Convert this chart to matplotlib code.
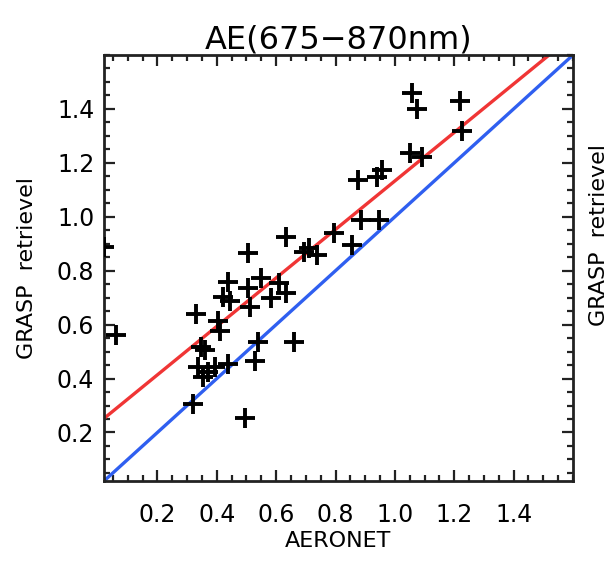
"""Scatter of GRASP retrieval vs AERONET Angstrom exponent (675-870nm)."""

import matplotlib
matplotlib.use("Agg")
import matplotlib.pyplot as plt
from matplotlib.ticker import MultipleLocator
import numpy as np

# values
aeronet = [
    0.02, 0.061, 0.329, 0.506, 0.438, 0.421, 0.445, 0.506, 0.513, 0.550,
    0.581, 0.608, 0.632, 0.404, 0.411, 0.346, 0.360, 0.336, 0.353, 0.372,
    0.394, 0.438, 0.540, 0.530, 0.319, 0.496, 0.659, 0.632, 0.710, 0.737,
    0.693, 0.795, 0.887, 0.948, 0.856, 1.057, 1.074, 1.220, 1.227, 1.050,
    1.091, 0.955, 0.940, 0.875,
]
grasp = [
    0.888, 0.560, 0.638, 0.866, 0.759, 0.704, 0.686, 0.737, 0.667, 0.774,
    0.700, 0.756, 0.719, 0.612, 0.575, 0.517, 0.505, 0.443, 0.406, 0.425,
    0.443, 0.454, 0.535, 0.465, 0.307, 0.252, 0.535, 0.925, 0.885, 0.859,
    0.870, 0.940, 0.988, 0.988, 0.896, 1.459, 1.400, 1.429, 1.319, 1.238,
    1.220, 1.172, 1.146, 1.135,
]

# fitted line (slope, intercept) and axis range
fit_slope = 0.899
fit_intercept = 0.234
axis_min, axis_max = 0.02, 1.6
tick_values = [0.2, 0.4, 0.6, 0.8, 1.0, 1.2, 1.4]
tick_labels = ["0.2", "0.4", "0.6", "0.8", "1.0", "1.2", "1.4"]

plt.rcParams["font.family"] = ["DejaVu Sans"]

fig = plt.figure(figsize=(6.05, 5.61), dpi=100)
ax = fig.add_axes([104 / 605, 80 / 561, 469 / 605, 426 / 561])

line_x = np.array([axis_min, axis_max])
ax.plot(line_x, line_x, color="#2f5ff0", lw=2.4, zorder=2)
ax.plot(line_x, fit_slope * line_x + fit_intercept, color="#f03535", lw=2.4, zorder=2)
ax.plot(aeronet, grasp, "+", color="black", ms=14, mew=2.8, zorder=3, clip_on=True)

ax.set_xlim(axis_min, axis_max)
ax.set_ylim(axis_min, axis_max)
ax.set_xticks(tick_values)
ax.set_xticklabels(tick_labels)
ax.set_yticks(tick_values)
ax.set_yticklabels(tick_labels)
ax.xaxis.set_minor_locator(MultipleLocator(0.05))
ax.yaxis.set_minor_locator(MultipleLocator(0.05))

ax.tick_params(which="both", direction="in", top=True, right=True, width=1.6,
               color="#222222", labelcolor="black")
ax.tick_params(which="major", length=8)
ax.tick_params(which="minor", length=4)
ax.tick_params(axis="x", which="major", pad=16, labelsize=17)
ax.tick_params(axis="y", which="major", pad=7, labelsize=17)
for spine in ax.spines.values():
    spine.set_linewidth(2)
    spine.set_color("#222222")

ax.set_title("AE(675\u2212870nm)", fontsize=23, pad=5)
ax.set_xlabel("AERONET", fontsize=16, labelpad=3)
ax.set_ylabel("GRASP  retrievel", fontsize=16, labelpad=14)

# neighbouring panel's axis label, cut by the right edge
fig.text(599 / 605, 1 - 235 / 561, "GRASP  retrievel", rotation=90,
         ha="center", va="center", fontsize=16)

fig.savefig("out.png", dpi=100)
